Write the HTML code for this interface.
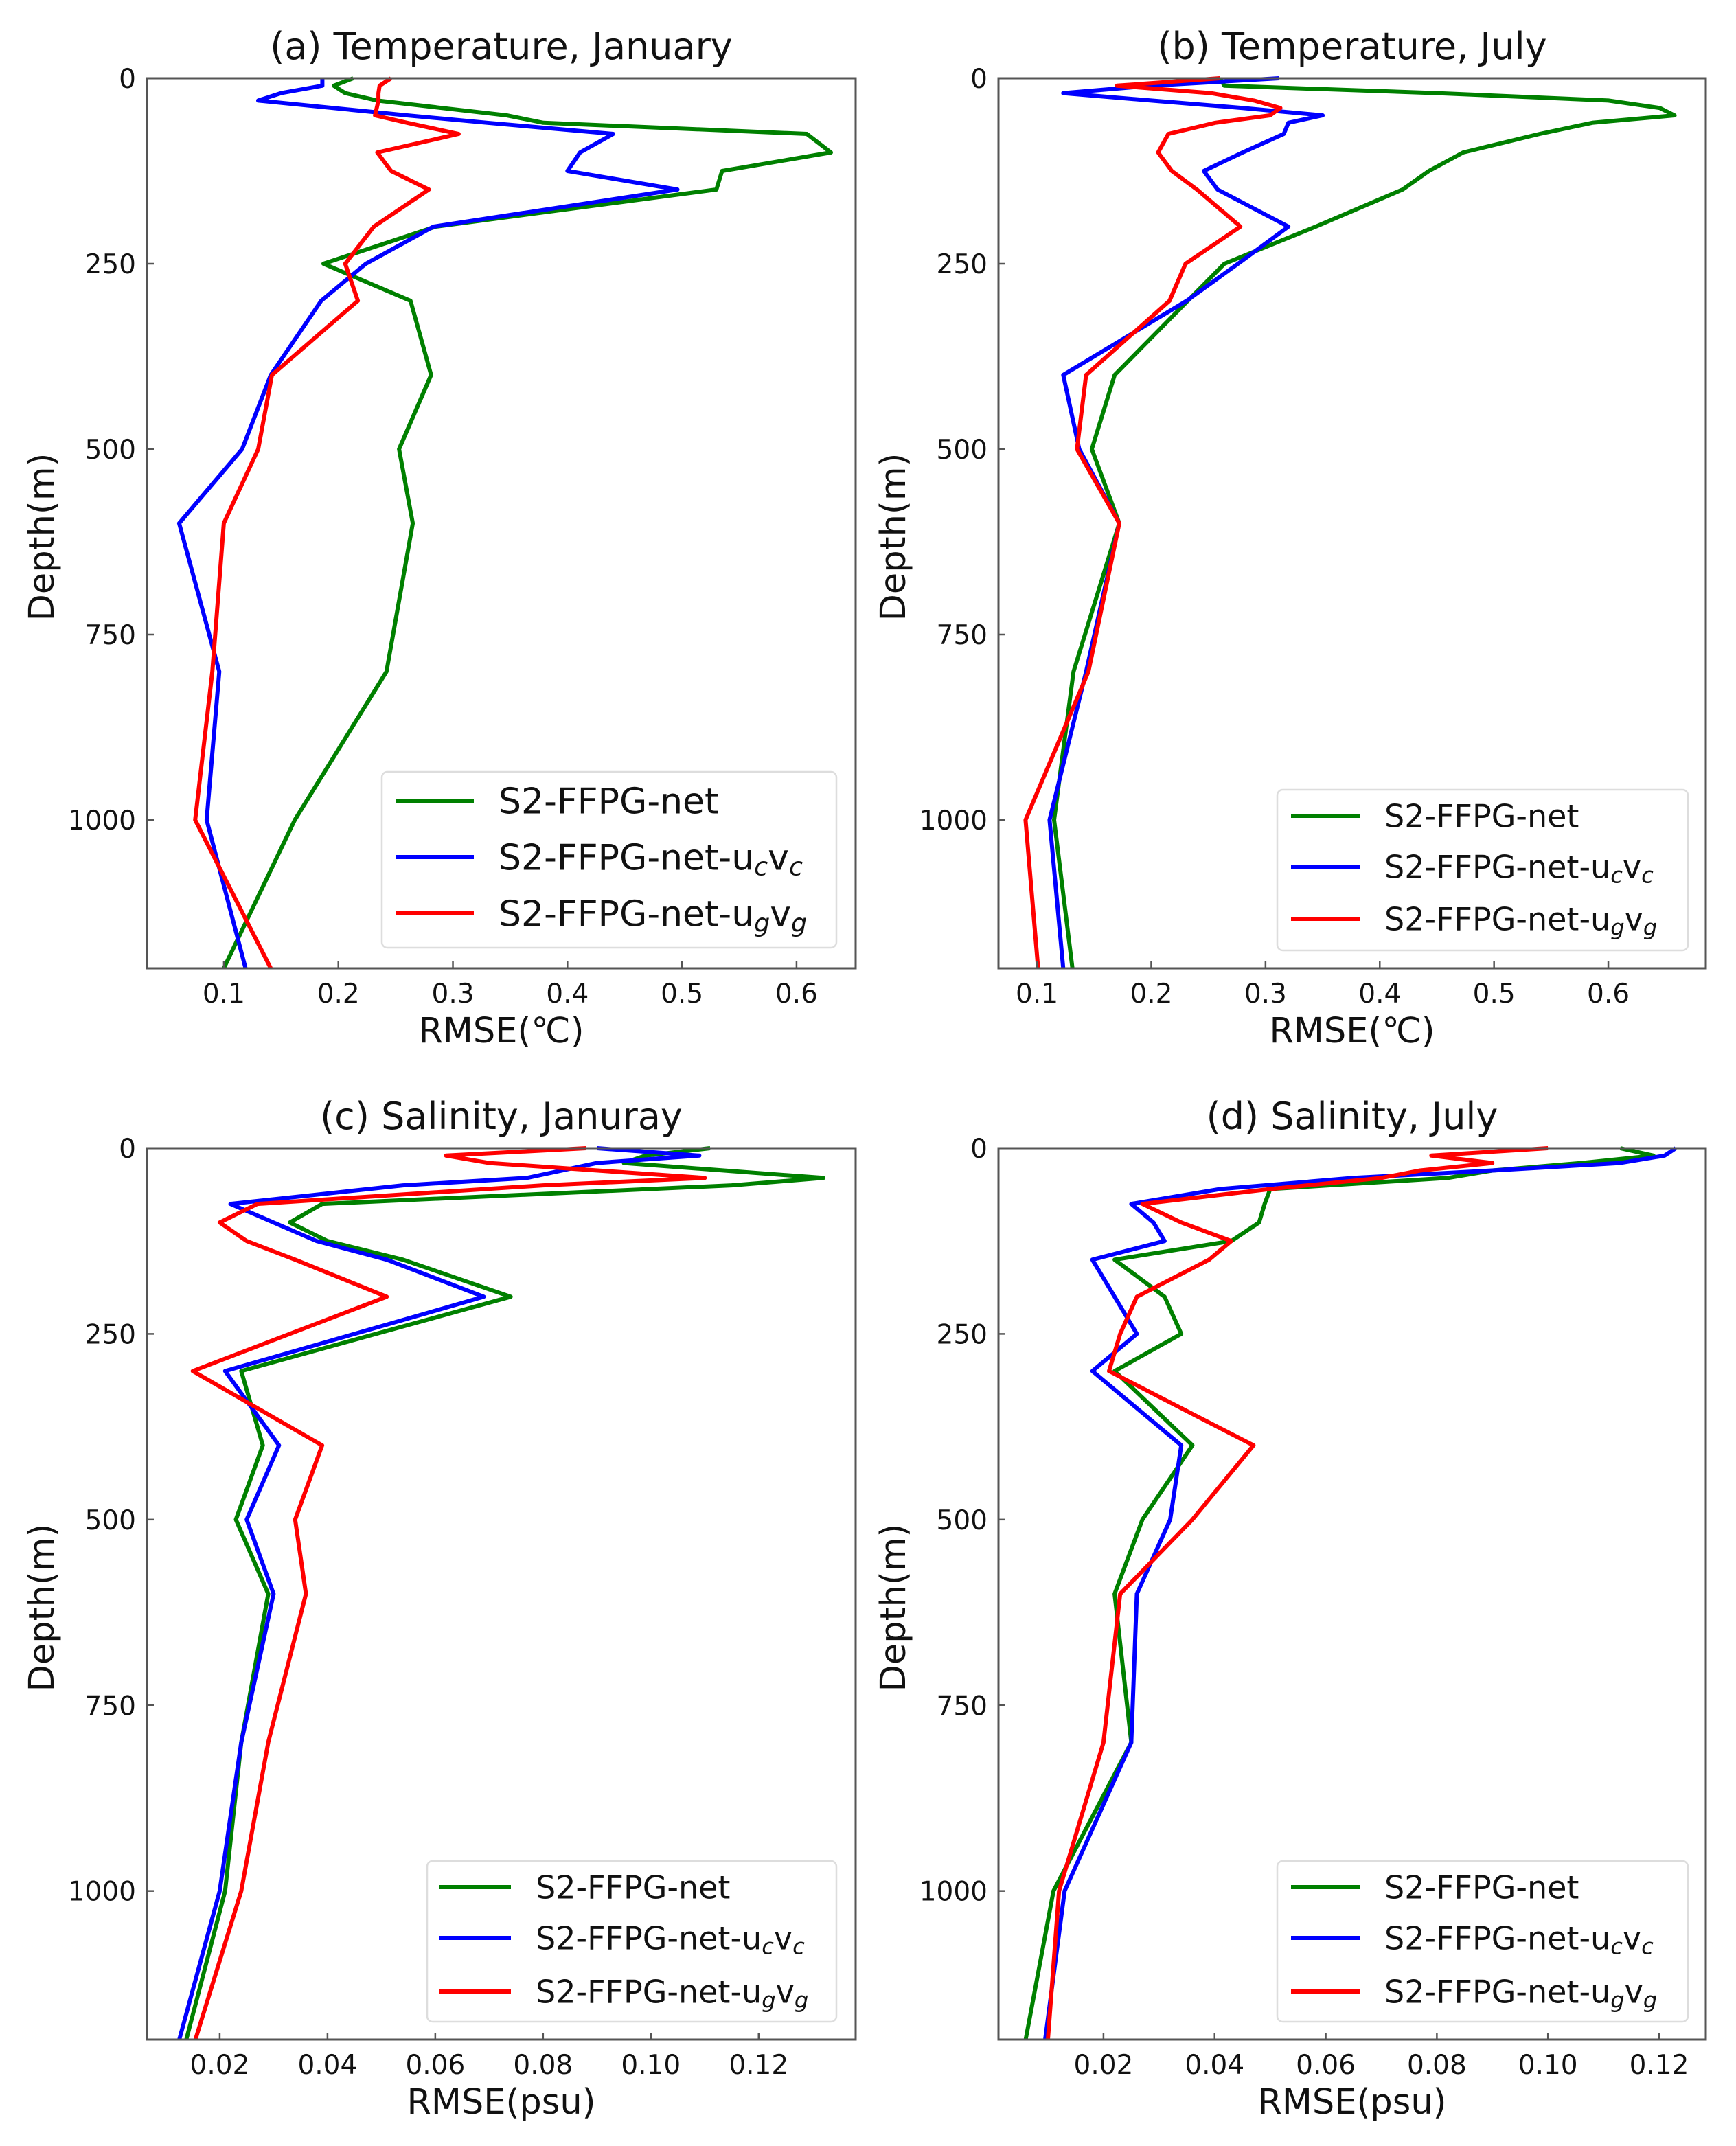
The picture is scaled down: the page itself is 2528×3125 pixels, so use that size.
<!DOCTYPE html>
<html><head><meta charset="utf-8"><style>
html,body{margin:0;padding:0;background:#fff;}
svg{display:block;font-family:"DejaVu Sans","Liberation Sans",sans-serif;}
</style></head><body>
<svg id="fig" width="2528" height="3125" viewBox="0 0 2528 3125" xmlns="http://www.w3.org/2000/svg"></svg>
<script>
// ---------- data ----------
const seriesNames = ["S2-FFPG-net", "S2-FFPG-net-ucvc", "S2-FFPG-net-ugvg"];
const depthA = [0,10,20,30,50,60,75,100,125,150,200,250,300,400,500,600,800,1000,1200];
const aGreen = [0.213,0.196,0.206,0.234,0.347,0.379,0.609,0.630,0.535,0.530,0.285,0.187,0.263,0.281,0.253,0.265,0.242,0.162,0.100];
const aBlue  = [0.186,0.186,0.150,0.130,0.260,0.330,0.440,0.411,0.400,0.496,0.283,0.224,0.185,0.141,0.116,0.061,0.096,0.085,0.119];
const aRed   = [0.246,0.236,0.235,0.235,0.232,0.260,0.305,0.234,0.246,0.279,0.231,0.206,0.217,0.142,0.130,0.100,0.090,0.075,0.141];
const depthB = [0,10,20,30,40,50,60,75,100,125,150,200,250,300,400,500,600,800,1000,1200];
const bGreen = [0.260,0.264,0.450,0.600,0.645,0.658,0.586,0.540,0.473,0.443,0.420,0.344,0.264,0.232,0.168,0.148,0.172,0.132,0.115,0.131];
const bBlue  = [0.312,0.200,0.123,0.200,0.280,0.350,0.320,0.316,0.280,0.246,0.258,0.320,0.276,0.231,0.123,0.137,0.172,0.143,0.111,0.123];
const bRed   = [0.260,0.170,0.252,0.290,0.313,0.304,0.256,0.215,0.206,0.218,0.240,0.278,0.230,0.216,0.143,0.135,0.172,0.145,0.090,0.101];
const depthC = [0,10,20,40,50,75,100,125,150,200,300,400,500,600,800,1000,1200];
const cGreen = [0.111,0.099,0.095,0.132,0.115,0.039,0.033,0.040,0.054,0.074,0.024,0.028,0.023,0.029,0.024,0.021,0.0138];
const cBlue  = [0.090,0.109,0.090,0.077,0.054,0.022,0.030,0.038,0.051,0.069,0.021,0.031,0.025,0.030,0.024,0.020,0.0125];
const cRed   = [0.088,0.062,0.070,0.110,0.080,0.027,0.020,0.025,0.034,0.051,0.015,0.039,0.034,0.036,0.029,0.024,0.0155];
const depthD = [0,10,20,30,40,55,75,100,125,150,200,250,300,400,500,600,800,1000,1200];
const dGreen = [0.113,0.119,0.106,0.090,0.082,0.050,0.049,0.048,0.043,0.022,0.031,0.034,0.022,0.036,0.027,0.022,0.025,0.011,0.006];
const dBlue  = [0.123,0.121,0.113,0.090,0.065,0.041,0.025,0.029,0.031,0.018,0.022,0.026,0.018,0.034,0.032,0.026,0.025,0.013,0.0095];
const dRed   = [0.100,0.079,0.090,0.077,0.070,0.050,0.027,0.034,0.043,0.039,0.026,0.023,0.021,0.047,0.036,0.023,0.020,0.012,0.010];
const yTicks = [0,250,500,750,1000];
const xTicksT = ["0.1","0.2","0.3","0.4","0.5","0.6"];
const xTicksS = ["0.02","0.04","0.06","0.08","0.10","0.12"];

// ---------- layout ----------
const NS = "http://www.w3.org/2000/svg";
const svg = document.getElementById("fig");
const colors = ["#008000","#0000ff","#ff0000"];
const panels = [
 {id:"a", title:"(a) Temperature, January", L:214,R:1246,T:114,B:1410, xmin:0.0329,xmax:0.6516, ticks:xTicksT, xlabel:"RMSE(℃)", depth:depthA, ser:[aGreen,aBlue,aRed], leg:{x:556,y:1124,w:662,h:256,lx1:576,lx2:690,tx:726,ys:[1166,1248,1330],fs:52}},
 {id:"b", title:"(b) Temperature, July", L:1454,R:2484,T:114,B:1410, xmin:0.0663,xmax:0.6853, ticks:xTicksT, xlabel:"RMSE(℃)", depth:depthB, ser:[bGreen,bBlue,bRed], leg:{x:1860,y:1150,w:598,h:234,lx1:1880,lx2:1980,tx:2016,ys:[1188,1262,1338],fs:46}},
 {id:"c", title:"(c) Salinity, Januray", L:214,R:1246,T:1672,B:2970, xmin:0.0065,xmax:0.138, ticks:xTicksS, xlabel:"RMSE(psu)", depth:depthC, ser:[cGreen,cBlue,cRed], leg:{x:622,y:2710,w:596,h:234,lx1:640,lx2:744,tx:780,ys:[2748,2822,2900],fs:46}},
 {id:"d", title:"(d) Salinity, July", L:1454,R:2484,T:1672,B:2970, xmin:0.0011,xmax:0.1284, ticks:xTicksS, xlabel:"RMSE(psu)", depth:depthD, ser:[dGreen,dBlue,dRed], leg:{x:1860,y:2710,w:598,h:234,lx1:1880,lx2:1980,tx:2016,ys:[2748,2822,2900],fs:46}}
];
function mk(tag, attrs, parent){
  const e = document.createElementNS(NS, tag);
  for (const k in attrs) e.setAttribute(k, attrs[k]);
  (parent||svg).appendChild(e);
  return e;
}
panels.forEach(p=>{
  const g = mk("g", {});
  
  
  const xs = v => p.L + (v - p.xmin) / (p.xmax - p.xmin) * (p.R - p.L);
  const ys = d => p.T + d / 1200 * (p.B - p.T);
  p.ser.forEach((vals, si)=>{
    const pts = vals.map((v,i)=> xs(v).toFixed(1) + "," + ys(p.depth[i]).toFixed(1)).join(" ");
    const pl = mk("polyline", {points:pts, fill:"none", stroke:colors[si], "stroke-width":6, "stroke-linejoin":"round"}, g);
    
    
  });
  const fr = mk("rect", {x:p.L, y:p.T, width:p.R-p.L, height:p.B-p.T, fill:"none", stroke:"#555", "stroke-width":3}, g);
  
  
  yTicks.forEach(t=>{
    const y = ys(t);
    const tk = mk("line", {x1:p.L, x2:p.L+10, y1:y, y2:y, stroke:"#555", "stroke-width":2.5}, g);
    
    
    const tx = mk("text", {x:p.L-16, y:y+14, "text-anchor":"end", "font-size":39, fill:"#111"}, g);
    tx.textContent = t;
    
    
  });
  p.ticks.forEach(s=>{
    const x = xs(parseFloat(s));
    const tk = mk("line", {x1:x, x2:x, y1:p.B, y2:p.B-10, stroke:"#555", "stroke-width":2.5}, g);
    
    
    const tx = mk("text", {x:x, y:p.B+50, "text-anchor":"middle", "font-size":39, fill:"#111"}, g);
    tx.textContent = s;
    
    
  });
  const cx = (p.L + p.R)/2;
  const ti = mk("text", {x:cx, y:p.T-28, "text-anchor":"middle", "font-size":54, fill:"#111"}, g);
  ti.textContent = p.title;
  
  
  const xl = mk("text", {x:cx, y:p.B+108, "text-anchor":"middle", "font-size":51, fill:"#111"}, g);
  xl.textContent = p.xlabel;
  
  
  const yc = (p.T + p.B)/2 + 20;
  const yl = mk("text", {x:0, y:0, "text-anchor":"middle", "font-size":51, fill:"#111", transform:"translate(" + (p.L-136) + "," + yc + ") rotate(-90)"}, g);
  yl.textContent = "Depth(m)";
  
  
  const L = p.leg;
  const lg = mk("g", {}, g);
  
  
  mk("rect", {x:L.x, y:L.y, width:L.w, height:L.h, rx:8, fill:"#fff", "fill-opacity":0.85, stroke:"#ddd", "stroke-width":2.5}, lg);
  const labels = [
    ["S2-FFPG-net", null, null],
    ["S2-FFPG-net-u", "c", "v"],
    ["S2-FFPG-net-u", "g", "v"]
  ];
  labels.forEach((lb, i)=>{
    const ent = mk("g", {}, lg);
    
    
    mk("line", {x1:L.lx1, x2:L.lx2, y1:L.ys[i], y2:L.ys[i], stroke:colors[i], "stroke-width":6}, ent);
    const t = mk("text", {x:L.tx, y:L.ys[i] + L.fs*0.36, "font-size":L.fs, fill:"#111"}, ent);
    if (!lb[1]) { t.textContent = lb[0]; }
    else {
      t.appendChild(document.createTextNode(lb[0]));
      const s1 = mk("tspan", {"font-size":L.fs*0.7, "font-style":"italic", dy:L.fs*0.15}, t); s1.textContent = lb[1];
      const s2 = mk("tspan", {dy:-L.fs*0.15}, t); s2.textContent = lb[2];
      const s3 = mk("tspan", {"font-size":L.fs*0.7, "font-style":"italic", dy:L.fs*0.15}, t); s3.textContent = lb[1];
    }
  });
});
</script>
</body></html>
